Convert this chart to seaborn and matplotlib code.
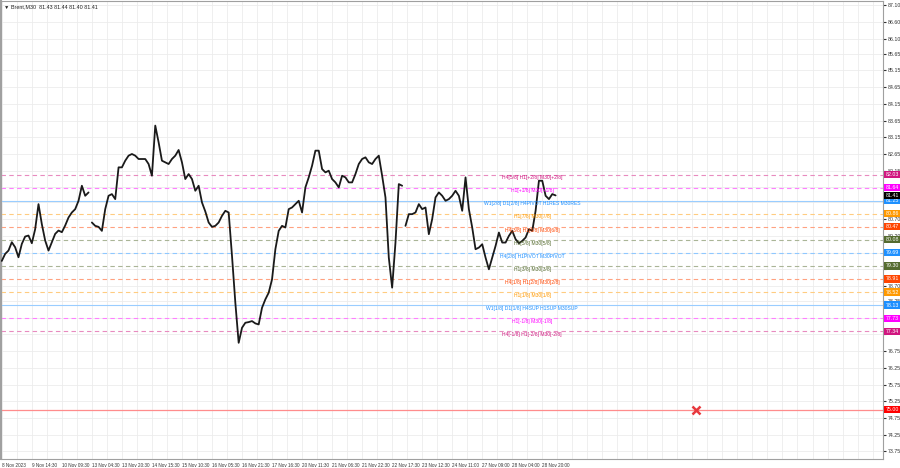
import numpy as np
import pandas as pd
import seaborn as sns
import matplotlib.pyplot as plt
import matplotlib.colors as mcolors
import matplotlib.transforms as mtransforms

# Brent M30 closes, one value per 4-bar slot
price = [79.45, 79.66, 79.76, 80.01, 79.86, 79.56, 79.96, 80.18, 80.21, 79.98,
         80.40, 81.15, 80.55, 80.06, 79.76, 80.01, 80.26, 80.36, 80.31, 80.51,
         80.75, 80.90, 81.00, 81.25, 81.70, 81.40, 81.50,
         80.60, 80.50, 80.47, 80.35, 81.00, 81.40, 81.45, 81.30, 82.25,
         82.25, 82.45, 82.60, 82.65, 82.60, 82.50, 82.50, 82.50, 82.35, 82.00,
         83.50, 83.00, 82.45, 82.40, 82.35, 82.50, 82.60, 82.77, 82.40, 81.90,
         82.05, 81.90, 81.55, 81.70, 81.20, 80.93, 80.60, 80.47, 80.50, 80.60,
         80.80, 80.95, 80.90, 79.60, 78.20, 77.00, 77.45, 77.60, 77.62, 77.65,
         77.58, 77.55, 78.05, 78.30, 78.50, 78.90, 79.80, 80.35, 80.50, 80.45,
         81.00, 81.05, 81.15, 81.25, 80.90, 81.65, 81.95, 82.30, 82.75, 82.75,
         82.20, 82.10, 82.15, 81.90, 81.80, 81.65, 82.00, 81.95, 81.80, 81.80,
         82.05, 82.35, 82.50, 82.55, 82.40, 82.35, 82.50, 82.60, 82.00, 81.35,
         79.55, 78.65, 80.00, 81.75, 81.70,
         80.50, 80.85, 80.85, 80.90, 81.15, 81.00, 81.05, 80.25, 80.70, 81.35,
         81.50, 81.40, 81.25, 81.30, 81.40, 81.55, 81.40, 80.95, 81.95, 81.00,
         80.45, 79.80, 79.85, 79.95, 79.55, 79.20, 79.55, 79.90, 80.30, 80.00,
         80.00, 80.20, 80.35, 80.10, 79.98, 80.05, 80.15, 80.40, 80.35, 80.95,
         81.85, 81.85, 81.40, 81.30, 81.45, 81.41]
gap_after = [26, 120]  # weekend / session gaps

date_labels = ["8 Nov 2023", "9 Nov 14:30", "10 Nov 09:30", "13 Nov 04:30",
               "13 Nov 20:30", "14 Nov 15:30", "15 Nov 10:30", "16 Nov 05:30",
               "16 Nov 21:30", "17 Nov 16:30", "20 Nov 11:30", "21 Nov 06:30",
               "21 Nov 22:30", "22 Nov 17:30", "23 Nov 12:30", "24 Nov 11:00",
               "27 Nov 09:00", "28 Nov 04:00", "28 Nov 20:00"]

price_ticks = [87.10, 86.60, 86.10, 85.65, 85.15, 84.65, 84.15, 83.65, 83.15,
               82.65, 82.15, 81.65, 81.20, 80.70, 80.20, 79.70, 79.20, 78.70,
               78.25, 77.75, 77.25, 76.75, 76.25, 75.75, 75.25, 74.75, 74.25, 73.75]

# Murrey math levels
level_values = [82.03, 81.64, 81.25, 80.86, 80.47, 80.08, 79.69, 79.30,
                78.91, 78.52, 78.13, 77.73, 77.34]
level_texts = ["H4[5/8] H1[+2/8] M30[+2/8]", "H1[+1/8] M30[+1/8]",
               "W1[2/8] D1[2/8] H4PIVOT H1RES M30RES", "H1[7/8] M30[7/8]",
               "H4[3/8] H1[6/8] M30[6/8]", "H1[5/8] M30[5/8]",
               "H4[2/8] H1PIVOT M30PIVOT", "H1[3/8] M30[3/8]",
               "H4[1/8] H1[2/8] M30[2/8]", "H1[1/8] M30[1/8]",
               "W1[1/8] D1[1/8] H4SUP H1SUP M30SUP", "H1[-1/8] M30[-1/8]",
               "H4[-1/8] H1[-2/8] M30[-2/8]"]
level_colors = ["#d0167f", "#ff00ff", "#1e90ff", "#ff9900", "#ff4500",
                "#556b2f", "#1e90ff", "#556b2f", "#ff4500", "#ff9900",
                "#1e90ff", "#ff00ff", "#d0167f"]
level_solid = [False, False, True, False, False, False, False, False,
               False, False, True, False, False]

current_price = 81.41
target_price = 75.00
target_slot = 208
header = "\u25bc Brent,M30  81.43 81.44 81.40 81.41"

seg = np.searchsorted(gap_after, np.arange(len(price)), side="left")
df = pd.DataFrame({"slot": np.arange(len(price)), "price": price, "seg": seg})

sns.set_style("white")
plt.rcParams['font.family'] = ['Liberation Sans', 'DejaVu Sans']

fs = 3.8
tag_box = dict(boxstyle="square,pad=0.2", ec="none")


def pale(c, k):
    # blend a colour towards white
    r = np.array(mcolors.to_rgb(c))
    return tuple(r * k + (1 - k))


fig = plt.figure(figsize=(9, 4.68), dpi=100)
ax = fig.add_axes([0.001, 0.019, 0.980, 0.979])

# grid
ax.set_xticks(np.arange(0, 264, 4.5), minor=True)
ax.set_yticks(price_ticks)
# the terminal hides scale labels that sit under a price tag
tags = level_values + [current_price, target_price]
ax.set_yticklabels(["" if min(abs(v - t) for t in tags) < 0.11 else f"{v:.2f}"
                    for v in price_ticks])
ax.grid(True, which="both", axis="x", color="#ececec", lw=0.6)
ax.grid(True, which="major", axis="y", color="#ececec", lw=0.6)
ax.set_axisbelow(True)

# level lines and their labels
ymix = mtransforms.blended_transform_factory(ax.transAxes, ax.transData)
for v, t, c, solid in zip(level_values, level_texts, level_colors, level_solid):
    if solid:
        ax.axhline(v, color=pale(c, 0.45), lw=0.8, zorder=1)
    else:
        ax.axhline(v, color=pale(c, 0.5), lw=0.8, dashes=(4, 3), zorder=1)
    ax.text(159, v - 0.02, t, color=c, fontsize=3.6, ha="center", va="top", zorder=4)
    ax.text(1.003, v, f"{v:.2f}", transform=ymix, color="white", fontsize=fs,
            ha="left", va="center", clip_on=False, zorder=6,
            bbox=dict(tag_box, fc=c))

ax.axhline(target_price, color=pale("#ff0000", 0.45), lw=0.9, zorder=1)
ax.text(1.003, target_price, f"{target_price:.2f}", transform=ymix, color="white",
        fontsize=fs, ha="left", va="center", clip_on=False, zorder=6,
        bbox=dict(tag_box, fc="#ff0000"))
ax.plot(target_slot, target_price, marker="x", color="#e8383d", ms=6, mew=1.8, zorder=5)

# price
sns.lineplot(data=df, x="slot", y="price", units="seg", estimator=None,
             color="#1a1a1a", lw=1.3, ax=ax, zorder=3)
ax.text(1.003, current_price, f"{current_price:.2f}", transform=ymix, color="white",
        fontsize=fs, ha="left", va="center", clip_on=False, zorder=7,
        bbox=dict(tag_box, fc="#000000"))

ax.set_xlim(-0.27, 264.1)
ax.set_ylim(73.52, 87.23)
ax.set_xticks(np.arange(len(date_labels)) * 9)
ax.set_xticklabels(date_labels, ha="left")
ax.yaxis.tick_right()
ax.tick_params(axis="y", labelsize=fs, length=2, pad=1.2, colors="#333333")
ax.tick_params(axis="x", labelsize=3.3, length=2, pad=1, colors="#333333")
ax.tick_params(which="minor", length=0)
ax.set_xlabel("")
ax.set_ylabel("")
for side in ["left", "right", "bottom", "top"]:
    ax.spines[side].set_color("#a0a0a0")
    ax.spines[side].set_linewidth(0.8)
ax.spines["left"].set_linewidth(1.5)

ax.text(0.004, 0.993, header, transform=ax.transAxes, fontsize=3.9, ha="left",
        va="top", color="#222222")

fig.savefig("out.png", dpi=100, facecolor="white")
